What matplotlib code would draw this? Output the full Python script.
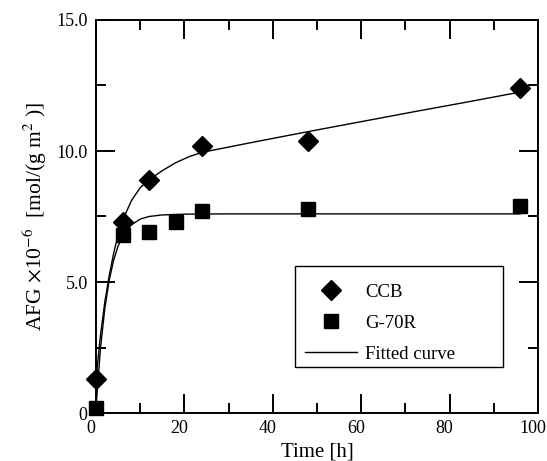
import matplotlib
matplotlib.use("Agg")
import matplotlib.pyplot as plt
import matplotlib.transforms as mtransforms
from matplotlib.patches import Rectangle
from matplotlib.ticker import MultipleLocator, FixedLocator, FixedFormatter

plt.rcParams['font.family'] = ['Liberation Serif', 'DejaVu Serif']
plt.rcParams['mathtext.fontset'] = 'stix'

# measured data
t_ccb = [0, 6, 12, 24, 48, 96]
y_ccb = [1.3, 7.3, 8.9, 10.2, 10.4, 12.4]
t_g70 = [0, 6, 12, 18, 24, 48, 96]
y_g70 = [0.2, 6.8, 6.9, 7.3, 7.7, 7.8, 7.9]

# fitted curves
t_fit_ccb = [0, 1, 2, 3, 4, 5, 6, 8, 10, 12, 15, 18, 21, 24, 30, 36, 48, 60, 72, 84, 96]
y_fit_ccb = [1.3, 2.95, 4.25, 5.25, 6.1, 6.8, 7.35, 8.1, 8.6, 8.9, 9.25, 9.55, 9.78, 9.95,
             10.15, 10.35, 10.74, 11.12, 11.5, 11.87, 12.25]
t_fit_g70 = [0, 1, 2, 3, 4, 5, 6, 8, 10, 12, 15, 20, 30, 48, 96]
y_fit_g70 = [0.2, 2.45, 4.0, 5.08, 5.84, 6.37, 6.74, 7.18, 7.40, 7.50, 7.56, 7.59, 7.6, 7.6, 7.6]

x_ticks = [0, 20, 40, 60, 80, 100]
y_ticks = [0, 5, 10, 15]
y_tick_labels = ['0', '5.0', '10.0', '15.0']

fig = plt.figure(figsize=(5.47, 4.61), dpi=100)
ax = fig.add_axes([96/547, 48/461, 442/547, 393/461])

ax.plot(t_fit_ccb, y_fit_ccb, color='black', lw=1.0, label='Fitted curve', zorder=2)
ax.plot(t_fit_g70, y_fit_g70, color='black', lw=1.0, zorder=2)
ax.plot(t_ccb, y_ccb, linestyle='none', marker='D', ms=10.5, color='black', label='CCB',
        clip_on=False, zorder=3)
ax.plot(t_g70, y_g70, linestyle='none', marker='s', ms=9.5, color='black', label='G-70R',
        clip_on=False, zorder=3)

ax.set_xlim(0, 100)
ax.set_ylim(0, 15)
ax.xaxis.set_major_locator(FixedLocator(x_ticks))
ax.xaxis.set_minor_locator(MultipleLocator(10))
ax.yaxis.set_major_locator(FixedLocator(y_ticks))
ax.yaxis.set_major_formatter(FixedFormatter(y_tick_labels))
ax.yaxis.set_minor_locator(MultipleLocator(2.5))

ax.tick_params(which='both', direction='in', top=True, right=True, width=1.4, labelsize=13)
ax.tick_params(which='major', length=13.5)
ax.tick_params(which='minor', length=7)
ax.tick_params(axis='y', pad=6)
ax.tick_params(axis='x', pad=5)
for s in ax.spines.values():
    s.set_linewidth(1.4)

offset = mtransforms.ScaledTranslation(-5/100, 0, fig.dpi_scale_trans)
for lab in ax.get_xticklabels():
    lab.set_transform(lab.get_transform() + offset)

ax.set_xlabel('Time [h]', fontsize=15, labelpad=4)
ax.set_ylabel(r'AFG $\times$10$^{-6}$  [mol/(g m$^{2}$ )]', fontsize=15.5, labelpad=5)

# legend frame
ax.add_patch(Rectangle((0.45, 0.117), 0.471, 0.257, transform=ax.transAxes,
                       facecolor='white', edgecolor='black', lw=1.0, zorder=4))

h, l = ax.get_legend_handles_labels()
order = [1, 2, 0]
leg = ax.legend([h[i] for i in order], [l[i] for i in order], loc='upper left',
                bbox_to_anchor=(0.45, 0.099, 0.471, 0.257), mode='expand', borderaxespad=0,
                fontsize=13.5, frameon=False,
                numpoints=1, handlelength=2.75, handletextpad=0.45, labelspacing=0.75,
                borderpad=0.55)
leg.set_zorder(5)

fig.savefig('out.png', dpi=100)
